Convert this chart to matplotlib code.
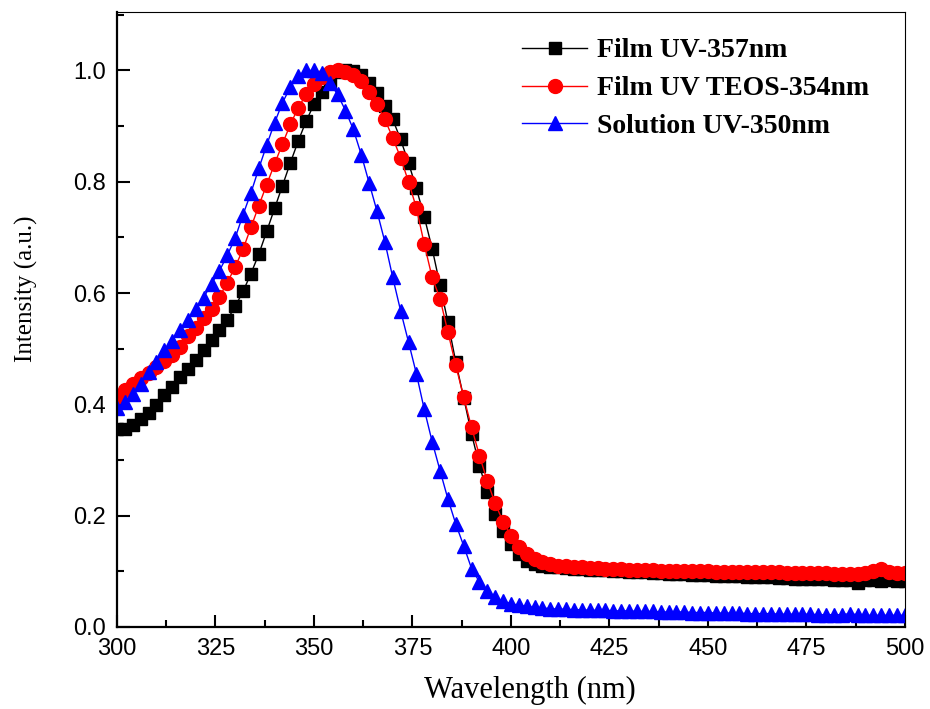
import numpy as np
import matplotlib
matplotlib.use("Agg")
import matplotlib.pyplot as plt
from matplotlib.ticker import MultipleLocator

# wavelength grid, 2 nm steps
wavelength = np.arange(300, 501, 2)

film_uv = [
    0.355, 0.356, 0.363, 0.373, 0.384, 0.399, 0.416, 0.432, 0.449, 0.464,
    0.479, 0.497, 0.515, 0.533, 0.552, 0.576, 0.603, 0.635, 0.670, 0.711,
    0.752, 0.793, 0.834, 0.873, 0.909, 0.939, 0.961, 0.982, 0.998, 1.000,
    0.999, 0.991, 0.978, 0.960, 0.936, 0.912, 0.876, 0.834, 0.788, 0.737,
    0.680, 0.614, 0.548, 0.476, 0.412, 0.347, 0.290, 0.242, 0.203, 0.173,
    0.149, 0.131, 0.119, 0.113, 0.110, 0.108, 0.107, 0.106, 0.105, 0.104,
    0.103, 0.102, 0.102, 0.101, 0.100, 0.099, 0.099, 0.098, 0.097, 0.097,
    0.096, 0.095, 0.095, 0.094, 0.093, 0.093, 0.092, 0.092, 0.091, 0.091,
    0.090, 0.090, 0.089, 0.089, 0.088, 0.088, 0.087, 0.087, 0.087, 0.086,
    0.086, 0.085, 0.085, 0.085, 0.079, 0.084, 0.084, 0.083, 0.085, 0.083,
    0.082,
]

film_uv_teos = [
    0.414, 0.425, 0.437, 0.447, 0.457, 0.467, 0.478, 0.489, 0.503, 0.522,
    0.538, 0.556, 0.572, 0.593, 0.619, 0.647, 0.679, 0.718, 0.757, 0.795,
    0.832, 0.868, 0.903, 0.933, 0.957, 0.975, 0.988, 0.998, 1.000, 0.997,
    0.992, 0.981, 0.962, 0.939, 0.912, 0.879, 0.843, 0.800, 0.753, 0.688,
    0.628, 0.590, 0.530, 0.470, 0.413, 0.359, 0.308, 0.262, 0.222, 0.189,
    0.164, 0.143, 0.131, 0.123, 0.117, 0.113, 0.110, 0.109, 0.108, 0.107,
    0.106, 0.106, 0.105, 0.104, 0.104, 0.103, 0.103, 0.102, 0.102, 0.101,
    0.101, 0.101, 0.100, 0.100, 0.100, 0.100, 0.099, 0.099, 0.099, 0.099,
    0.098, 0.098, 0.098, 0.098, 0.098, 0.097, 0.097, 0.097, 0.097, 0.097,
    0.097, 0.096, 0.096, 0.096, 0.096, 0.097, 0.101, 0.104, 0.099, 0.097,
    0.097,
]

solution_uv = [
    0.393, 0.405, 0.418, 0.436, 0.458, 0.477, 0.497, 0.514, 0.534, 0.552,
    0.571, 0.592, 0.617, 0.640, 0.668, 0.699, 0.741, 0.780, 0.824, 0.866,
    0.906, 0.942, 0.970, 0.990, 1.000, 1.000, 0.995, 0.978, 0.957, 0.928,
    0.894, 0.849, 0.798, 0.747, 0.692, 0.628, 0.568, 0.512, 0.455, 0.391,
    0.333, 0.281, 0.230, 0.185, 0.146, 0.105, 0.081, 0.064, 0.053, 0.046,
    0.042, 0.039, 0.037, 0.035, 0.034, 0.033, 0.032, 0.032, 0.031, 0.031,
    0.030, 0.030, 0.030, 0.029, 0.029, 0.029, 0.028, 0.028, 0.028, 0.027,
    0.027, 0.027, 0.027, 0.026, 0.026, 0.026, 0.025, 0.025, 0.025, 0.025,
    0.024, 0.024, 0.024, 0.024, 0.023, 0.023, 0.023, 0.023, 0.023, 0.022,
    0.022, 0.022, 0.022, 0.024, 0.022, 0.021, 0.021, 0.021, 0.021, 0.021,
    0.021,
]

labels = ["Film UV-357nm", "Film UV TEOS-354nm", "Solution UV-350nm"]

fig = plt.figure(figsize=(9.3, 7.09), dpi=100)
ax = fig.add_axes([0.1258, 0.1157, 0.8472, 0.8673])

ax.plot(wavelength, film_uv, '-s', color='black', lw=1.0, ms=8.5,
        mec='black', label=labels[0])
ax.plot(wavelength, film_uv_teos, '-o', color='red', lw=1.0, ms=10,
        mec='red', label=labels[1])
ax.plot(wavelength, solution_uv, '-^', color='blue', lw=1.0, ms=10,
        mec='blue', label=labels[2])

ax.set_xlim(300, 500)
ax.set_ylim(0, 1.105)
ax.xaxis.set_major_locator(MultipleLocator(25))
ax.xaxis.set_minor_locator(MultipleLocator(12.5))
ax.yaxis.set_major_locator(MultipleLocator(0.2))
ax.yaxis.set_minor_locator(MultipleLocator(0.1))
ax.yaxis.set_major_formatter(matplotlib.ticker.FormatStrFormatter('%.1f'))

tick_font = ['Liberation Sans Narrow', 'Liberation Sans', 'DejaVu Sans']
ax.tick_params(which='both', direction='in', top=False, right=False, width=1.5)
ax.tick_params(which='major', length=9, pad=8)
ax.tick_params(which='minor', length=5)
for t in ax.get_xticklabels() + ax.get_yticklabels():
    t.set_family(tick_font)
    t.set_fontsize(17)

for side in ['left', 'bottom']:
    ax.spines[side].set_linewidth(1.6)
for side in ['top', 'right']:
    ax.spines[side].set_linewidth(0.8)

ax.set_xlabel("Wavelength (nm)", family='Liberation Serif', fontsize=22)
ax.xaxis.set_label_coords(0.524, -0.08)
ax.set_ylabel("Intensity (a.u.)", family='Liberation Serif', fontsize=18)
ax.yaxis.set_label_coords(-0.1, 0.55)

ax.legend(loc='upper left', frameon=False,
          prop={'family': 'Liberation Serif', 'weight': 'bold', 'size': 20},
          handlelength=2.35, handletextpad=0.35, labelspacing=0.45,
          borderpad=0, borderaxespad=0, bbox_to_anchor=(0.514, 0.958))

fig.savefig("out.png", dpi=100)
